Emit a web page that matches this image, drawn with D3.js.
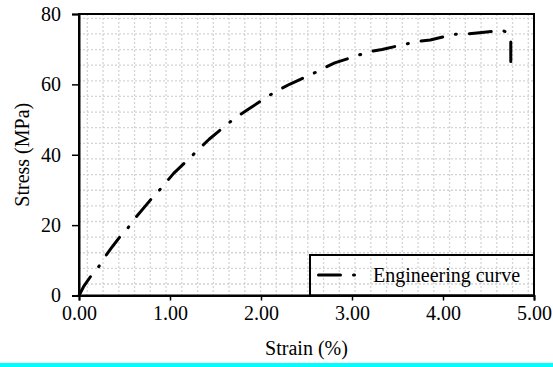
<!DOCTYPE html>
<html>
<head>
<meta charset="utf-8">
<script src="https://cdn.jsdelivr.net/npm/d3@7"></script>
<style>
  html, body { margin: 0; padding: 0; background: #fff; }
  svg { display: block; font-family: "Liberation Serif", "Times New Roman", serif; }
</style>
</head>
<body>
<div id="chart"></div>
<script>
// Strain (%) and stress (MPa)
const strain = [0.00, 0.05, 0.13, 0.22, 0.30, 0.37, 0.45, 0.54, 0.63, 0.80, 0.89, 1.04, 1.23, 1.32,
  1.43, 1.63, 1.74, 1.86, 2.07, 2.19, 2.32, 2.56, 2.68, 2.81, 3.06, 3.19, 3.33, 3.58, 3.72, 3.86,
  4.11, 4.25, 4.40, 4.66, 4.72, 4.745, 4.745];
const stress = [0.0, 2.5, 5.5, 8.3, 11.5, 14.0, 16.7, 19.3, 22.4, 27.6, 30.1, 34.7, 39.4, 41.7,
  44.4, 48.7, 50.9, 52.9, 56.5, 58.4, 60.1, 62.9, 64.5, 66.1, 68.2, 69.3, 69.9, 71.4, 72.2, 72.6,
  74.2, 74.3, 74.7, 75.3, 74.5, 72.5, 66.5];
const xTicks = [0, 1, 2, 3, 4, 5];
const yTicks = [0, 20, 40, 60, 80];
const seriesName = "Engineering curve";

const width = 553;
const height = 367;
const marginTop = 14;
const marginRight = 19;
const marginBottom = 71.5;
const marginLeft = 79;
const dash = "22,13,1,13";

const x = d3.scaleLinear().domain([0, 5]).range([marginLeft, width - marginRight]);
const y = d3.scaleLinear().domain([0, 80]).range([height - marginBottom, marginTop]);

const svg = d3.select("#chart").append("svg")
    .attr("width", width)
    .attr("height", height)
    .attr("viewBox", [0, 0, width, height]);

// dotted background grid (plot area pattern, not tied to the ticks)
const grid = svg.append("g")
    .attr("stroke", "#d4d4d4")
    .attr("stroke-width", 1.3)
    .attr("stroke-dasharray", "2,2");
grid.selectAll("line.v")
  .data(d3.range(29).map(i => marginLeft + 8.3 + i * 15.75))
  .join("line")
    .attr("class", "v")
    .attr("x1", d => d).attr("x2", d => d)
    .attr("y1", marginTop).attr("y2", height - marginBottom);
grid.selectAll("line.h")
  .data(d3.range(18).map(i => marginTop + 4.3 + i * 15.63))
  .join("line")
    .attr("class", "h")
    .attr("y1", d => d).attr("y2", d => d)
    .attr("x1", marginLeft).attr("x2", width - marginRight);

// curve
const line = d3.line()
    .x((d, i) => x(strain[i]))
    .y((d, i) => y(stress[i]));
svg.append("path")
    .datum(strain)
    .attr("fill", "none")
    .attr("stroke", "#000")
    .attr("stroke-width", 3)
    .attr("stroke-linecap", "round")
    .attr("stroke-linejoin", "round")
    .attr("stroke-dasharray", dash)
    .attr("d", line);

// frame
svg.append("rect")
    .attr("x", marginLeft)
    .attr("y", marginTop)
    .attr("width", width - marginLeft - marginRight)
    .attr("height", height - marginTop - marginBottom)
    .attr("fill", "none")
    .attr("stroke", "#000")
    .attr("stroke-width", 2);

// axes
svg.append("g")
    .attr("transform", `translate(0,${height - marginBottom})`)
    .call(d3.axisBottom(x).tickValues(xTicks).tickFormat(d3.format(".2f")).tickSize(5).tickPadding(5))
    .call(g => g.select(".domain").attr("stroke-width", 2))
    .call(g => g.selectAll(".tick line").attr("stroke-width", 1.5))
    .call(g => g.selectAll(".tick text").attr("font-size", 20).attr("font-family", "Liberation Serif").attr("fill", "#000"));

svg.append("g")
    .attr("transform", `translate(${marginLeft},0)`)
    .call(d3.axisLeft(y).tickValues(yTicks).tickSize(7).tickPadding(11))
    .call(g => g.select(".domain").attr("stroke-width", 2))
    .call(g => g.selectAll(".tick line").attr("stroke-width", 1.5))
    .call(g => g.selectAll(".tick text").attr("font-size", 20).attr("font-family", "Liberation Serif").attr("fill", "#000"));

// axis titles
svg.append("text")
    .attr("x", (marginLeft + width - marginRight) / 2)
    .attr("y", 355)
    .attr("text-anchor", "middle")
    .attr("font-size", 20)
    .text("Strain (%)");

svg.append("text")
    .attr("transform", `translate(29,${(marginTop + height - marginBottom) / 2}) rotate(-90)`)
    .attr("text-anchor", "middle")
    .attr("font-size", 20)
    .text("Stress (MPa)");

// legend
const legend = svg.append("g");
legend.append("rect")
    .attr("x", 310)
    .attr("y", 255)
    .attr("width", width - marginRight - 310)
    .attr("height", height - marginBottom - 255)
    .attr("fill", "none")
    .attr("stroke", "#000")
    .attr("stroke-width", 2);
legend.append("line")
    .attr("x1", 318.5).attr("x2", 356)
    .attr("y1", 275).attr("y2", 275)
    .attr("stroke", "#000")
    .attr("stroke-width", 3)
    .attr("stroke-linecap", "round")
    .attr("stroke-dasharray", dash);
legend.append("text")
    .attr("x", 373)
    .attr("y", 282)
    .attr("font-size", 20)
    .text(seriesName);

// cyan strip at the bottom edge
svg.append("rect")
    .attr("x", 0).attr("y", 363)
    .attr("width", width).attr("height", 4)
    .attr("fill", "#00ffff");
</script>
</body>
</html>
